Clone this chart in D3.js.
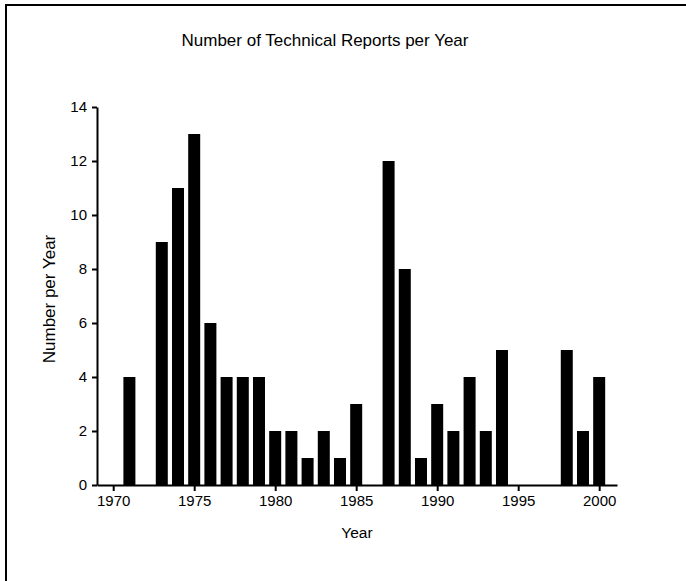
<!DOCTYPE html>
<html>
<head>
<meta charset="utf-8">
<script src="https://cdn.jsdelivr.net/npm/d3@7"></script>
<style>
  body { margin: 0; background: #fff; }
  text { font-family: "Liberation Sans", Arial, sans-serif; fill: #000; }
</style>
</head>
<body>
<svg id="chart"></svg>
<script>
// data
const years = [1971, 1972, 1973, 1974, 1975, 1976, 1977, 1978, 1979, 1980,
               1981, 1982, 1983, 1984, 1985, 1986, 1987, 1988, 1989, 1990,
               1991, 1992, 1993, 1994, 1995, 1996, 1997, 1998, 1999, 2000];
const counts = [4, 0, 9, 11, 13, 6, 4, 4, 4, 2,
                2, 1, 2, 1, 3, 0, 12, 8, 1, 3,
                2, 4, 2, 5, 0, 0, 0, 5, 2, 4];
const xTicks = [1970, 1975, 1980, 1985, 1990, 1995, 2000];
const yTicks = [0, 2, 4, 6, 8, 10, 12, 14];

const width = 686, height = 581;
const margin = {top: 107, right: 69, bottom: 96, left: 97};

const svg = d3.select('#chart')
    .attr('width', width)
    .attr('height', height);

// frame (cut off at right and bottom)
svg.append('rect')
    .attr('x', 6).attr('y', 5)
    .attr('width', width + 20).attr('height', height + 20)
    .attr('fill', 'none')
    .attr('stroke', '#000')
    .attr('stroke-width', 2);

const xscale = d3.scaleLinear()
    .domain([1969, 2001.1])
    .range([margin.left, width - margin.right]);

const yscale = d3.scaleLinear()
    .domain([0, 14])
    .range([height - margin.bottom, margin.top]);

const barWidth = 12;

svg.append('g')
    .selectAll('rect')
    .data(years.map((y, i) => ({year: y, n: counts[i]})).filter(d => d.n > 0))
    .enter()
    .append('rect')
    .attr('x', d => xscale(d.year) - barWidth / 2)
    .attr('y', d => yscale(d.n))
    .attr('width', barWidth)
    .attr('height', d => yscale(0) - yscale(d.n))
    .attr('fill', '#000');

const xaxis = d3.axisBottom(xscale)
    .tickValues(xTicks)
    .tickFormat(d3.format('d'))
    .tickSize(6)
    .tickSizeOuter(0)
    .tickPadding(4);

const xg = svg.append('g')
    .attr('transform', `translate(0, ${height - margin.bottom})`)
    .call(xaxis);

const yaxis = d3.axisLeft(yscale)
    .tickValues(yTicks)
    .tickSize(5)
    .tickSizeOuter(0)
    .tickPadding(5);

const yg = svg.append('g')
    .attr('transform', `translate(${margin.left}, 0)`)
    .call(yaxis);

[xg, yg].forEach(g => {
    g.selectAll('path, line').attr('stroke', '#000').attr('stroke-width', 2);
    g.selectAll('text')
        .style('font-family', '"Liberation Sans", Arial, sans-serif')
        .attr('font-size', '15px')
        .attr('fill', '#000');
});

svg.append('text')
    .attr('x', 325)
    .attr('y', 46)
    .attr('text-anchor', 'middle')
    .attr('font-size', '17px')
    .text('Number of Technical Reports per Year');

svg.append('text')
    .attr('x', (margin.left + width - margin.right) / 2)
    .attr('y', 538)
    .attr('text-anchor', 'middle')
    .attr('font-size', '15.5px')
    .text('Year');

svg.append('text')
    .attr('transform', 'rotate(-90)')
    .attr('x', -299)
    .attr('y', 55)
    .attr('text-anchor', 'middle')
    .attr('font-size', '17px')
    .text('Number per Year');
</script>
</body>
</html>
